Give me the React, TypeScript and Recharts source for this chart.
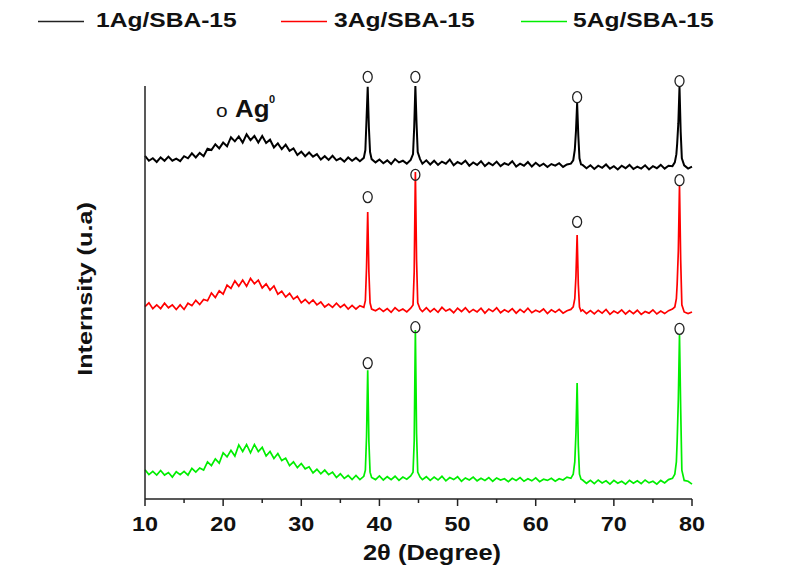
import { LineChart, Line, XAxis, YAxis, ReferenceDot } from "recharts";

// 2θ positions (deg) shared by all three patterns
const twoTheta = [
  10, 10.5, 11, 11.5, 12, 12.5, 13, 13.5, 14, 14.5, 15, 15.5, 16, 16.5, 17, 17.5, 18, 18.5, 19, 19.5,
  20, 20.5, 21, 21.5, 22, 22.5, 23, 23.5, 24, 24.5, 25, 25.5, 26, 26.5, 27, 27.5, 28, 28.5, 29, 29.5,
  30, 30.5, 31, 31.5, 32, 32.5, 33, 33.5, 34, 34.5, 35, 35.5, 36, 36.5, 37, 37.5,
  38, 38.2, 38.35, 38.5, 38.65, 38.8, 39, 39.5,
  40, 40.5, 41, 41.5, 42, 42.5, 43, 43.5, 44,
  44.3, 44.45, 44.6, 44.75, 44.9, 45.2, 45.5,
  46, 46.5, 47, 47.5, 48, 48.5, 49, 49.5, 50, 50.5, 51, 51.5, 52, 52.5, 53, 53.5, 54, 54.5, 55, 55.5,
  56, 56.5, 57, 57.5, 58, 58.5, 59, 59.5, 60, 60.5, 61, 61.5, 62, 62.5, 63, 63.5, 64, 64.5,
  64.8, 65, 65.15, 65.3, 65.45, 65.6, 65.8,
  66, 66.5, 67, 67.5, 68, 68.5, 69, 69.5, 70, 70.5, 71, 71.5, 72, 72.5, 73, 73.5, 74, 74.5, 75, 75.5,
  76, 76.5, 77, 77.5,
  77.8, 78, 78.1, 78.25, 78.4, 78.55, 78.7, 79,
  79.5, 80,
];

// stacked intensities (a.u.)
const ag1 = [
  83.1, 81.9, 82.5, 81.6, 82.7, 81.9, 82.9, 81.9, 82.4, 81.8, 83.0, 82.5, 83.7, 82.7, 83.8, 83.0, 84.8, 84.5, 85.9, 84.9,
  86.3, 85.4, 87.6, 86.6, 87.8, 86.3, 88.3, 86.9, 87.9, 86.3, 87.9, 86.2, 87.0, 85.1, 86.1, 84.7, 85.8, 84.3, 84.9, 83.3,
  84.1, 83.0, 83.9, 82.9, 83.5, 82.2, 83.0, 82.1, 83.1, 82.0, 82.5, 81.7, 82.7, 81.9, 82.6, 81.8,
  82.6, 84.5, 92, 99.8, 90, 84, 82.3, 81.5,
  82.2, 81.3, 82.0, 81.1, 82.3, 81.5, 81.9, 81.2, 82.1,
  83.5, 90, 100, 91, 84, 82.3, 81.2,
  82.0, 81.0, 81.9, 80.9, 81.7, 81.2, 82.2, 80.8, 81.6, 81.1, 81.9, 80.7, 81.5, 80.9, 81.8, 80.6, 81.4, 80.8, 81.7, 80.6,
  81.3, 80.9, 81.8, 80.5, 81.2, 80.7, 81.6, 80.5, 81.4, 80.6, 81.2, 80.4, 81.1, 80.7, 81.3, 80.4, 81.0, 81.2,
  82.0, 84.5, 89, 95.9, 88, 82.5, 81.0,
  80.9, 80.1, 80.8, 79.9, 80.7, 80.2, 81.0, 80.0, 80.6, 79.8, 80.7, 80.1, 80.9, 79.9, 80.5, 80.0, 80.8, 79.8, 80.6, 80.1,
  80.9, 80.0, 80.7, 80.6,
  81.5, 83.5, 86, 91, 99.8, 89, 82.5, 80.8,
  80.0, 80.5,
];

const ag3 = [
  46.6, 47.5, 46.1, 47.0, 46.1, 47.4, 46.3, 47.0, 45.9, 47.0, 45.9, 47.4, 46.8, 48.1, 47.1, 48.3, 48.0, 49.9, 48.8, 50.4,
  49.6, 51.8, 51.0, 52.8, 51.5, 53.0, 51.5, 53.4, 52.1, 53.0, 51.1, 52.1, 50.6, 51.6, 49.6, 50.3, 48.9, 49.8, 48.4, 49.1,
  47.5, 48.3, 47.3, 48.2, 47.0, 47.7, 46.5, 47.2, 46.4, 47.4, 46.4, 47.1, 46.0, 46.9, 46.0, 46.8,
  46.4, 48, 56, 69.5, 55, 47.5, 46.0, 45.6,
  46.2, 45.4, 46.1, 45.2, 46.3, 45.5, 46.0, 45.3, 46.2,
  47, 55, 79.2, 58, 47.5, 46.0, 45.4,
  46.3, 45.3, 46.1, 45.2, 46.4, 45.5, 46.0, 45.1, 46.2, 45.4, 46.3, 45.2, 45.9, 45.3, 46.2, 45.0, 46.0, 45.4, 46.3, 45.1,
  45.8, 45.3, 46.1, 45.0, 45.9, 45.2, 46.2, 45.1, 45.7, 45.3, 46.0, 44.9, 45.8, 45.2, 45.9, 45.0, 45.6, 45.9,
  46.5, 48.5, 54, 63.9, 52, 46.5, 45.5,
  45.8, 44.9, 45.6, 44.8, 45.7, 45.0, 45.9, 44.7, 45.5, 45.0, 45.8, 44.8, 45.6, 44.9, 45.7, 44.7, 45.4, 45.0, 45.8, 44.8,
  45.5, 44.9, 45.6, 46.0,
  46.5, 48.5, 52, 60, 76, 58, 47, 45.3,
  44.9, 45.3,
];

const ag5 = [
  7.1, 5.9, 6.7, 5.8, 6.9, 5.8, 6.4, 5.3, 6.6, 5.9, 6.7, 5.8, 7.4, 6.5, 7.5, 7.0, 9.0, 8.1, 9.7, 8.7,
  11.2, 10.2, 11.8, 10.4, 13.1, 11.5, 13.2, 11.2, 13.2, 11.5, 12.5, 10.4, 11.5, 9.8, 11.0, 9.3, 9.9, 8.1, 9.0, 7.6,
  8.6, 7.3, 7.8, 6.3, 7.2, 6.1, 7.0, 5.9, 6.5, 5.2, 6.1, 5.0, 5.7, 4.7, 5.7, 4.7,
  5.5, 7, 15, 31.2, 14, 6.5, 5.2, 4.7,
  5.6, 4.6, 5.4, 4.7, 5.5, 4.5, 5.3, 4.8, 5.6,
  6.5, 14, 40.9, 16, 6.5, 5.3, 4.7,
  5.4, 4.5, 5.3, 4.6, 5.5, 4.4, 5.2, 4.7, 5.4, 4.3, 5.1, 4.6, 5.3, 4.4, 5.0, 4.5, 5.2, 4.3, 5.1, 4.6,
  4.9, 4.2, 5.0, 4.5, 5.2, 4.3, 4.9, 4.4, 5.1, 4.2, 4.8, 4.5, 5.0, 4.3, 4.9, 4.6, 5.3, 5.0,
  6, 9, 16, 28.1, 13, 6, 4.8,
  4.6, 3.8, 4.5, 3.7, 4.6, 3.9, 4.4, 3.6, 4.5, 3.8, 4.3, 3.6, 4.5, 3.8, 4.4, 3.7, 4.6, 3.9, 4.3, 3.6,
  4.5, 3.9, 4.7, 5.0,
  6, 9, 14, 24, 39.7, 22, 7, 4.5,
  4.3, 3.6,
];

// Ag0 reflection markers
const markerTheta = [38.5, 44.6, 65.3, 78.4];
const ag1Markers = [102.2, 102.2, 97.3, 101.2];
const ag3Markers = [73.1, 78.5, 67.1, 77.2];
const ag5MarkerTheta = [38.5, 44.6, 78.4];
const ag5Markers = [32.9, 41.6, 41.2];

const xTicks = [10, 15, 20, 25, 30, 35, 40, 45, 50, 55, 60, 65, 70, 75, 80];

const series = [
  { key: "ag1", name: "1Ag/SBA-15", color: "#000000", width: 2 },
  { key: "ag3", name: "3Ag/SBA-15", color: "#ff0000", width: 1.7 },
  { key: "ag5", name: "5Ag/SBA-15", color: "#00ee00", width: 1.7 },
];

const data = twoTheta.map((t, i) => ({ t, ag1: ag1[i], ag3: ag3[i], ag5: ag5[i] }));

const FONT = "'Liberation Sans', Arial, sans-serif";

function XTick(props: any) {
  const { x, y, payload } = props;
  const major = payload.value % 10 === 0;
  return (
    <g>
      <line x1={x} y1={y} x2={x} y2={y + (major ? 7 : 4)} stroke="#222" strokeWidth={1.5} />
      {major && (
        <text
          transform={`translate(${x},${y + 31.5}) scale(1.2,1)`}
          textAnchor="middle"
          fontFamily={FONT}
          fontWeight="bold"
          fontSize={19.5}
          fill="#111"
        >
          {payload.value}
        </text>
      )}
    </g>
  );
}

function Ring(props: any) {
  const { cx, cy } = props;
  return <ellipse cx={cx} cy={cy} rx={4.5} ry={5.5} fill="none" stroke="#222" strokeWidth={1.3} />;
}

export default function App() {
  return (
    <div style={{ position: "absolute", left: 0, top: 0, width: 803, height: 576, background: "#fff" }}>
      <LineChart
        width={803}
        height={576}
        data={data}
        margin={{ top: 86, right: 111, left: 140, bottom: 47 }}
      >
        <XAxis
          dataKey="t"
          type="number"
          domain={[10, 80]}
          ticks={xTicks}
          interval={0}
          tickSize={0}
          tickMargin={0}
          tickLine={false}
          tick={<XTick />}
          height={30}
          axisLine={{ stroke: "#222", strokeWidth: 1.5 }}
        />
        <YAxis
          type="number"
          domain={[0, 100]}
          tick={false}
          tickLine={false}
          width={5}
          axisLine={{ stroke: "#222", strokeWidth: 1.5 }}
        />
        {series.map((s) => (
          <Line
            key={s.key}
            dataKey={s.key}
            stroke={s.color}
            strokeWidth={s.width}
            strokeLinejoin="miter"
            dot={false}
            type="linear"
            isAnimationActive={false}
          />
        ))}
        {markerTheta.map((t, i) => (
          <ReferenceDot key={`m1-${i}`} x={t} y={ag1Markers[i]} ifOverflow="visible" shape={<Ring />} />
        ))}
        {markerTheta.map((t, i) => (
          <ReferenceDot key={`m3-${i}`} x={t} y={ag3Markers[i]} ifOverflow="visible" shape={<Ring />} />
        ))}
        {ag5MarkerTheta.map((t, i) => (
          <ReferenceDot key={`m5-${i}`} x={t} y={ag5Markers[i]} ifOverflow="visible" shape={<Ring />} />
        ))}
      </LineChart>
      <svg
        width={803}
        height={576}
        style={{ position: "absolute", left: 0, top: 0, pointerEvents: "none" }}
        fontFamily={FONT}
        fontWeight="bold"
        fill="#111"
      >
        {/* legend */}
        {series.map((s, i) => {
          const lx = [38, 281, 521][i];
          const tx = [96, 334, 573][i];
          return (
            <g key={s.key}>
              <line x1={lx} y1={21.5} x2={lx + 46} y2={21.5} stroke={s.color === "#000000" ? "#222" : s.color} strokeWidth={1.6} />
              <text transform={`translate(${tx},27) scale(1.2,1)`} fontSize={20.5}>
                {s.name}
              </text>
            </g>
          );
        })}
        {/* axis titles */}
        <text transform="translate(432,560) scale(1.13,1)" textAnchor="middle" fontSize={22.5}>
          2θ (Degree)
        </text>
        <text transform="translate(92,289) rotate(-90) scale(1.2,1)" textAnchor="middle" fontSize={21}>
          Internsity (u.a)
        </text>
        {/* phase annotation */}
        <text transform="translate(216,117) scale(1.1,1)" fontSize={19} fontWeight="normal">
          o
        </text>
        <text transform="translate(235,117) scale(1.1,1)" fontSize={23.5}>
          Ag
        </text>
        <text x={269} y={103} fontSize={11}>
          0
        </text>
      </svg>
    </div>
  );
}
